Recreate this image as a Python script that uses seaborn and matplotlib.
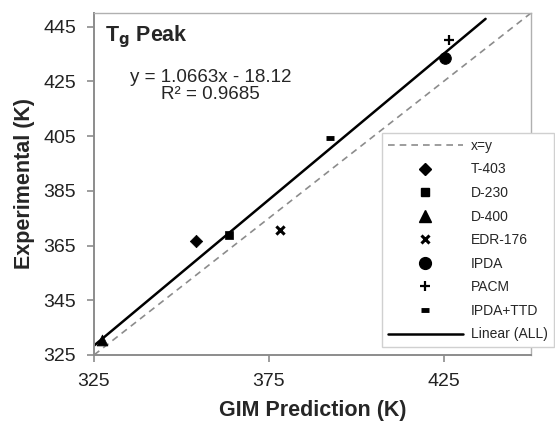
import matplotlib
matplotlib.use("Agg")
import matplotlib.pyplot as plt
from matplotlib.lines import Line2D
import numpy as np
import pandas as pd
import seaborn as sns

# Glass transition peak: GIM prediction vs. experiment (K)
materials = ["T-403", "D-230", "D-400", "EDR-176", "IPDA", "PACM", "IPDA+TTD"]
gim_pred = [354.1, 363.6, 327.2, 378.2, 425.5, 426.6, 392.5]
experimental = [366.8, 369.0, 330.5, 370.5, 433.4, 440.3, 404.3]

# Linear trendline over all samples
fit_slope = 1.0663
fit_intercept = -18.12
fit_r2 = 0.9685
fit_range = [325, 437]

x_ticks = [325, 375, 425]
y_ticks = [325, 345, 365, 385, 405, 425, 445]

sns.set_theme(style="white")
plt.rcParams["font.family"] = ["Liberation Sans", "DejaVu Sans"]

df = pd.DataFrame({"material": materials, "pred": gim_pred, "exp": experimental})

marker_styles = {
    "T-403": dict(marker="D", s=40),
    "D-230": dict(marker="s", s=40),
    "D-400": dict(marker="^", s=60),
    "EDR-176": dict(marker="x", s=35, linewidth=2.2),
    "IPDA": dict(marker="o", s=70),
    "PACM": dict(marker="+", s=50, linewidth=1.6),
    "IPDA+TTD": dict(marker="_", s=35, linewidth=3.5),
}

fig = plt.figure(figsize=(5.55, 4.23), dpi=100)
ax = fig.add_axes([0.1694, 0.1608, 0.7874, 0.8085])

# x = y reference
ref = pd.DataFrame({"x": [325, 450], "y": [325, 450]})
sns.lineplot(data=ref, x="x", y="y", ax=ax, color="#8c8c8c", linestyle=(0, (4, 3)),
             linewidth=1.2, zorder=1)

# fitted line
fx = np.array(fit_range, dtype=float)
fit_df = pd.DataFrame({"x": fx, "y": fit_slope * fx + fit_intercept})
sns.lineplot(data=fit_df, x="x", y="y", ax=ax, color="black", linewidth=1.8, zorder=2)

for name in materials:
    sub = df[df["material"] == name]
    style = dict(marker_styles[name])
    sns.scatterplot(data=sub, x="pred", y="exp", ax=ax, color="black",
                    edgecolor="black", zorder=3, legend=False, **style)

ax.set_xlim(325, 450)
ax.set_ylim(325, 450)
ax.set_xticks(x_ticks)
ax.set_yticks(y_ticks)
ax.tick_params(axis="both", which="major", labelsize=14, colors="#8c8c8c",
               labelcolor="#222222", direction="out", length=5, width=1.2,
               bottom=True, left=True, pad=8)
for side, sp in ax.spines.items():
    sp.set_color("#8c8c8c")
    sp.set_linewidth(1.4 if side in ("left", "bottom") else 1.0)
    sp.set_visible(True)
ax.spines["top"].set_color("#b0b0b0")
ax.spines["right"].set_color("#b0b0b0")

ax.set_xlabel("GIM Prediction (K)", fontsize=15.5, fontweight="bold", labelpad=7)
ax.set_ylabel("Experimental (K)", fontsize=15.5, fontweight="bold", labelpad=6)

ax.text(0.025, 0.97, r"T$_\mathbf{g}$ Peak", transform=ax.transAxes, fontsize=15.5,
        fontweight="bold", va="top", ha="left")
ax.text(0.267, 0.835, f"y = {fit_slope:.4f}x - {abs(fit_intercept):.2f}\nR² = {fit_r2:.4f}",
        transform=ax.transAxes, fontsize=13.5, ha="center", va="top",
        multialignment="center", linespacing=1.0)

handles = [Line2D([], [], color="#8c8c8c", linestyle=(0, (4, 3)), linewidth=1.2)]
legend_sizes = {"D": 6, "s": 6, "^": 8, "x": 6, "o": 8.5, "+": 7, "_": 6}
legend_mew = {"x": 2.2, "+": 1.6, "_": 3.5}
for name in materials:
    m = marker_styles[name]["marker"]
    handles.append(Line2D([], [], linestyle="none", marker=m, color="black",
                          markersize=legend_sizes[m], markeredgewidth=legend_mew.get(m, 1.0)))
handles.append(Line2D([], [], color="black", linewidth=1.8))
labels = ["x=y"] + materials + ["Linear (ALL)"]

leg = ax.legend(handles, labels, loc="upper left", bbox_to_anchor=(0.688, 0.6856),
                bbox_transform=fig.transFigure, borderaxespad=0, fontsize=10,
                frameon=True, fancybox=False, edgecolor="#d0d0d0", framealpha=1,
                labelspacing=0.69, handlelength=5.4, handletextpad=0.6,
                borderpad=0.42)
leg.get_frame().set_linewidth(1.0)

fig.savefig("out.png", dpi=100)
